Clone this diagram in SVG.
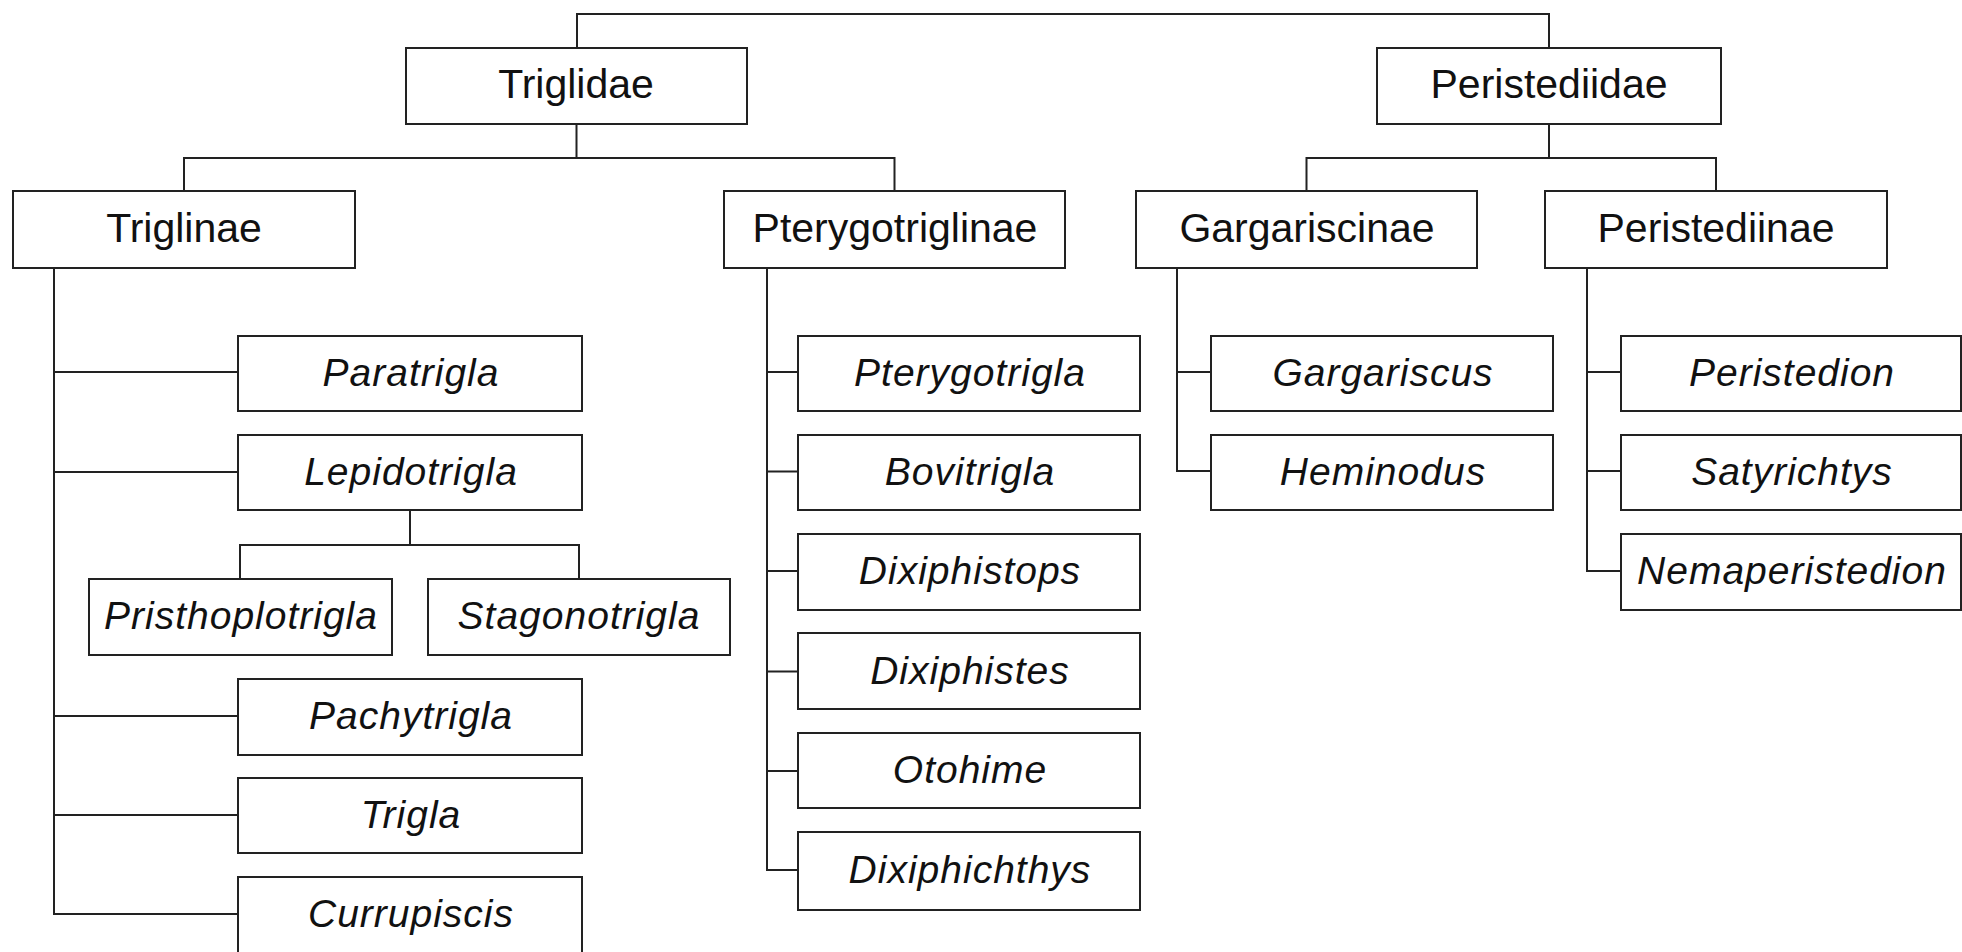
<svg xmlns="http://www.w3.org/2000/svg" width="1962" height="952" viewBox="0 0 1962 952">
<style>
.box{fill:#fff;stroke:#222;stroke-width:2}
.t{font-family:"Liberation Sans",Arial,sans-serif;font-size:41px;fill:#111;text-anchor:middle}
.i{font-style:italic;font-size:39px;letter-spacing:1px}
.c{fill:none;stroke:#222;stroke-width:2}
</style>
<rect width="1962" height="952" fill="#fff"/>
<g id="connectors" class="c">
<path d="M577 48V14H1549V48"/>
<path d="M576.5 124V158M184 191V158H894.5V191"/>
<path d="M1549 124V158M1306.5 191V158H1716V191"/>
<path d="M54 268V914H238M54 372H238M54 472H238M54 716H238M54 815H238"/>
<path d="M410 510V545M240 579V545H579V579"/>
<path d="M767 268V870H798M767 372H798M767 471.5H798M767 571H798M767 671.5H798M767 771H798"/>
<path d="M1177 268V471H1211M1177 372H1211"/>
<path d="M1587 268V571H1621M1587 372H1621M1587 471H1621"/>
</g>
<g id="triglidae"><rect class="box" x="406" y="48" width="341" height="76"/><text class="t" x="576" y="98">Triglidae</text></g>
<g id="peristediidae"><rect class="box" x="1377" y="48" width="344" height="76"/><text class="t" x="1549" y="98">Peristediidae</text></g>
<g id="triglinae"><rect class="box" x="13" y="191" width="342" height="77"/><text class="t" x="184" y="242">Triglinae</text></g>
<g id="pterygotriglinae"><rect class="box" x="724" y="191" width="341" height="77"/><text class="t" x="895" y="242">Pterygotriglinae</text></g>
<g id="gargariscinae"><rect class="box" x="1136" y="191" width="341" height="77"/><text class="t" x="1307" y="242">Gargariscinae</text></g>
<g id="peristediinae"><rect class="box" x="1545" y="191" width="342" height="77"/><text class="t" x="1716" y="242">Peristediinae</text></g>
<g id="paratrigla"><rect class="box" x="238" y="336" width="344" height="75"/><text class="t i" x="411" y="386">Paratrigla</text></g>
<g id="lepidotrigla"><rect class="box" x="238" y="435" width="344" height="75"/><text class="t i" x="411" y="485">Lepidotrigla</text></g>
<g id="pristhoplotrigla"><rect class="box" x="89" y="579" width="303" height="76"/><text class="t i" x="241" y="629">Pristhoplotrigla</text></g>
<g id="stagonotrigla"><rect class="box" x="428" y="579" width="302" height="76"/><text class="t i" x="579" y="629">Stagonotrigla</text></g>
<g id="pachytrigla"><rect class="box" x="238" y="679" width="344" height="76"/><text class="t i" x="411" y="729">Pachytrigla</text></g>
<g id="trigla"><rect class="box" x="238" y="778" width="344" height="75"/><text class="t i" x="411" y="828">Trigla</text></g>
<g id="currupiscis"><rect class="box" x="238" y="877" width="344" height="85"/><text class="t i" x="411" y="927">Currupiscis</text></g>
<g id="pterygotrigla"><rect class="box" x="798" y="336" width="342" height="75"/><text class="t i" x="970" y="386">Pterygotrigla</text></g>
<g id="bovitrigla"><rect class="box" x="798" y="435" width="342" height="75"/><text class="t i" x="970" y="485">Bovitrigla</text></g>
<g id="dixiphistops"><rect class="box" x="798" y="534" width="342" height="76"/><text class="t i" x="970" y="584">Dixiphistops</text></g>
<g id="dixiphistes"><rect class="box" x="798" y="633" width="342" height="76"/><text class="t i" x="970" y="684">Dixiphistes</text></g>
<g id="otohime"><rect class="box" x="798" y="733" width="342" height="75"/><text class="t i" x="970" y="783">Otohime</text></g>
<g id="dixiphichthys"><rect class="box" x="798" y="832" width="342" height="78"/><text class="t i" x="970" y="883">Dixiphichthys</text></g>
<g id="gargariscus"><rect class="box" x="1211" y="336" width="342" height="75"/><text class="t i" x="1383" y="386">Gargariscus</text></g>
<g id="heminodus"><rect class="box" x="1211" y="435" width="342" height="75"/><text class="t i" x="1383" y="485">Heminodus</text></g>
<g id="peristedion"><rect class="box" x="1621" y="336" width="340" height="75"/><text class="t i" x="1792" y="386">Peristedion</text></g>
<g id="satyrichtys"><rect class="box" x="1621" y="435" width="340" height="75"/><text class="t i" x="1792" y="485">Satyrichtys</text></g>
<g id="nemaperistedion"><rect class="box" x="1621" y="534" width="340" height="76"/><text class="t i" x="1792" y="584">Nemaperistedion</text></g>
</svg>
